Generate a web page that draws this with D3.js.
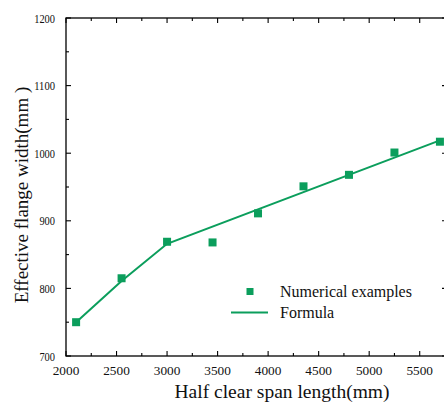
<!DOCTYPE html>
<html>
<head>
<meta charset="utf-8">
<script src="https://cdnjs.cloudflare.com/ajax/libs/d3/7.8.5/d3.min.js"></script>
<style>
  body { margin: 0; background: #fff; }
  svg { display: block; }
  text { font-family: "Liberation Serif", "DejaVu Serif", serif; fill: #111; }
</style>
</head>
<body>
<svg id="chart"></svg>
<script>
// numerical examples (span, width)
const spans = [2100, 2550, 3000, 3450, 3900, 4350, 4800, 5250, 5700];
const widths = [750, 815, 869, 868, 911, 951, 968, 1001, 1017];
// formula curve vertices
const formulaSpans = [2100, 2550, 3000, 5700];
const formulaWidths = [750, 811, 866, 1019];
const xTicks = [2000, 2500, 3000, 3500, 4000, 4500, 5000, 5500];
const yTicks = [700, 800, 900, 1000, 1100, 1200];

const width = 444, height = 406;
const green = "#0b9e5c";

const svg = d3.select("#chart").attr("width", width).attr("height", height);

const x = d3.scaleLinear().domain([2000, 5770]).range([66, 447]);
const y = d3.scaleLinear().domain([700, 1200]).range([356, 18]);

const xMinor = d3.range(2000, 5770, 250);
const yMinor = d3.range(700, 1201, 50);

// frame
svg.append("rect")
  .attr("x", x.range()[0]).attr("y", y.range()[1])
  .attr("width", x.range()[1] - x.range()[0])
  .attr("height", y.range()[0] - y.range()[1])
  .attr("fill", "none").attr("stroke", "#000").attr("stroke-width", 1.3);

// inward ticks on all sides
const tickG = svg.append("g").attr("stroke", "#000").attr("stroke-width", 1.1);
xMinor.forEach(v => {
  const len = v % 500 === 0 ? 5 : 3;
  tickG.append("line").attr("x1", x(v)).attr("x2", x(v)).attr("y1", y(700)).attr("y2", y(700) - len);
  tickG.append("line").attr("x1", x(v)).attr("x2", x(v)).attr("y1", y(1200)).attr("y2", y(1200) + len);
});
yMinor.forEach(v => {
  const len = v % 100 === 0 ? 5 : 3;
  tickG.append("line").attr("x1", x.range()[0]).attr("x2", x.range()[0] + len).attr("y1", y(v)).attr("y2", y(v));
  tickG.append("line").attr("x1", x.range()[1]).attr("x2", x.range()[1] - len).attr("y1", y(v)).attr("y2", y(v));
});

// tick labels
svg.append("g").selectAll("text")
  .data(xTicks).enter().append("text")
  .attr("x", d => x(d)).attr("y", 375)
  .attr("text-anchor", "middle")
  .attr("font-size", 13.3)
  .text(d => d);

// y labels look horizontally squeezed in the original
svg.append("g").selectAll("text")
  .data(yTicks).enter().append("text")
  .attr("x", 55).attr("y", d => y(d) + 4.5)
  .attr("text-anchor", "end")
  .attr("font-size", 12.5)
  .attr("textLength", d => String(d).length * 5.2)
  .attr("lengthAdjust", "spacingAndGlyphs")
  .text(d => d);

// axis titles
svg.append("text")
  .attr("x", 282).attr("y", 398)
  .attr("text-anchor", "middle")
  .attr("font-size", 19.5)
  .text("Half clear span length(mm)");

svg.append("text")
  .attr("transform", "translate(28,195) rotate(-90)")
  .attr("text-anchor", "middle")
  .attr("font-size", 19)
  .text("Effective flange width(mm )");

// formula line
const line = d3.line().x(d => x(d[0])).y(d => y(d[1]));
svg.append("path")
  .datum(d3.zip(formulaSpans, formulaWidths))
  .attr("d", line)
  .attr("fill", "none").attr("stroke", green).attr("stroke-width", 2);

// numerical example markers
svg.append("g").selectAll("rect")
  .data(d3.zip(spans, widths)).enter().append("rect")
  .attr("x", d => x(d[0]) - 4).attr("y", d => y(d[1]) - 4)
  .attr("width", 8).attr("height", 8)
  .attr("fill", green);

// legend
const leg = svg.append("g");
leg.append("rect").attr("x", 246.5).attr("y", 288).attr("width", 7).attr("height", 7).attr("fill", green);
leg.append("text").attr("x", 280).attr("y", 297).attr("font-size", 16).text("Numerical examples");
leg.append("line").attr("x1", 231).attr("x2", 268).attr("y1", 312.5).attr("y2", 312.5)
  .attr("stroke", green).attr("stroke-width", 2);
leg.append("text").attr("x", 280).attr("y", 317.5).attr("font-size", 16).text("Formula");
</script>
</body>
</html>
